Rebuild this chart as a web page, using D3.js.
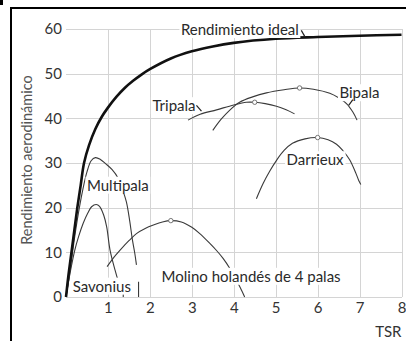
<!DOCTYPE html>
<html>
<head>
<meta charset="utf-8">
<script src="https://cdn.jsdelivr.net/npm/d3@7"></script>
<style>
  html, body { margin: 0; padding: 0; background: #fff; }
  svg { display: block; font-family: Lato, 'Noto Sans', sans-serif; }
</style>
</head>
<body>
<svg id="chart" width="406" height="341"></svg>
<script>
// Curves as [TSR, rendimiento %]
const ideal = [[0, 0], [0.06, 5], [0.13, 10], [0.2, 15], [0.27, 20], [0.35, 25], [0.43, 30],
  [0.55, 34], [0.7, 37.6], [0.85, 40.3], [1, 42.4], [1.2, 44.8], [1.4, 46.8], [1.6, 48.4],
  [1.8, 49.8], [2, 51], [2.5, 53.4], [3, 55], [3.5, 56.1], [4, 56.9], [5, 57.8], [6, 58.2],
  [7, 58.5], [8, 58.7]];
const multipala = [[0, 0], [0.1, 6], [0.2, 13], [0.3, 19], [0.4, 24], [0.5, 28], [0.6, 30.5],
  [0.7, 31.2], [0.82, 30.8], [0.95, 29.8], [1.1, 28.5], [1.25, 26.5], [1.35, 24], [1.44, 21.3],
  [1.52, 17], [1.58, 13], [1.64, 9.8], [1.68, 7.2]];
const savonius = [[0, 0], [0.1, 5.5], [0.21, 10.5], [0.3, 13.5], [0.41, 16.5], [0.52, 18.8],
  [0.61, 20.2], [0.72, 20.7], [0.8, 20.3], [0.9, 18.3], [0.97, 15.7], [1.05, 10.5], [1.17, 6],
  [1.25, 3.4]];
const molino = [[0.98, 6.8], [1.15, 9], [1.29, 10.5], [1.5, 12.6], [1.68, 14.2], [1.9, 15.4],
  [2.08, 16.1], [2.3, 16.8], [2.5, 17.1], [2.75, 16.8], [3, 15.6], [3.19, 14.2], [3.43, 12],
  [3.6, 10.3], [3.75, 8.6], [3.9, 6.5], [4.06, 3.8], [4.16, 2], [4.26, 0]];
const tripala = [[2.91, 39.6], [3.2, 40.9], [3.59, 41.9], [4, 43], [4.3, 43.6], [4.5, 43.6],
  [4.75, 43.3], [5.02, 42.7], [5.25, 41.9], [5.45, 41]];
const bipala = [[3.5, 37.3], [3.7, 39.8], [3.9, 41.8], [4.14, 43.6], [4.45, 44.8], [4.78, 45.7],
  [5.2, 46.4], [5.57, 46.8], [5.9, 46.5], [6.29, 45.6], [6.5, 44.6], [6.7, 43.2], [6.84, 41.4],
  [6.94, 39.6]];
const darrieux = [[4.54, 22], [4.7, 25.4], [4.86, 28.2], [5.02, 30.6], [5.2, 32.8], [5.4, 34.4],
  [5.7, 35.4], [6, 35.7], [6.25, 35.2], [6.45, 34.2], [6.6, 32.8], [6.76, 30.8], [6.9, 28],
  [6.98, 26.1], [7.03, 25.2]];

// optimum points (small open circles)
const peaks = [[2.5, 17.1], [4.5, 43.6], [5.57, 46.8], [6, 35.7]];
// short stubs where curves reach the axis
const drops = [[1.365, 1.9], [1.73, 3.4]];

const xTicks = [1, 2, 3, 4, 5, 6, 7, 8];
const yTicks = [0, 10, 20, 30, 40, 50, 60];

const labels = [
  { text: 'Rendimiento ideal', x: 2.74, y: 58.65 },
  { text: 'Tripala', x: 2.06, y: 41.6 },
  { text: 'Bipala', x: 6.52, y: 44.5 },
  { text: 'Darrieux', x: 5.26, y: 29.5 },
  { text: 'Multipala', x: 0.5, y: 23.8 },
  { text: 'Savonius', x: 0.16, y: 1.2 },
  { text: 'Molino holandés de 4 palas', x: 2.28, y: 3.4 },
];
// little pointer strokes from labels to curves
const leaders = [
  [[5.61, 59.7], [5.69, 58.4]],
  [[3.11, 42.9], [3.23, 41.6]],
  [[6.84, 44.2], [6.74, 42.9]],
];

const svg = d3.select('#chart');

const x = d3.scaleLinear().domain([0, 8]).range([66, 401.5]);
const y = d3.scaleLinear().domain([0, 60]).range([297, 29]);

// outer frame (only left and top edges fall inside the picture)
svg.append('rect')
  .attr('x', 0).attr('y', 0).attr('width', 3).attr('height', 5)
  .attr('fill', '#000');
svg.append('path')
  .attr('d', 'M11,341V8H406')
  .attr('fill', 'none')
  .attr('stroke', '#000')
  .attr('stroke-width', 2);

// grid
const grid = svg.append('g').attr('class', 'grid')
  .attr('stroke', '#d4d4d4')
  .attr('stroke-width', 1)
  .attr('shape-rendering', 'crispEdges');
grid.selectAll('line.h')
  .data(yTicks)
  .join('line')
  .attr('class', 'h')
  .attr('x1', x(0)).attr('x2', x(8))
  .attr('y1', d => Math.round(y(d)) + 0.5)
  .attr('y2', d => Math.round(y(d)) + 0.5);
grid.selectAll('line.v')
  .data(xTicks)
  .join('line')
  .attr('class', 'v')
  .attr('y1', y(0)).attr('y2', y(60))
  .attr('x1', d => Math.round(x(d)) + 0.5)
  .attr('x2', d => Math.round(x(d)) + 0.5);

// axes (labels only)
const yAxis = svg.append('g')
  .attr('transform', 'translate(' + x(0) + ',0)')
  .call(d3.axisLeft(y).tickValues(yTicks).tickSize(0).tickPadding(4));
const xAxis = svg.append('g')
  .attr('transform', 'translate(0,' + y(0) + ')')
  .call(d3.axisBottom(x).tickValues(xTicks).tickSize(0).tickPadding(5));
[yAxis, xAxis].forEach((ax) => {
  ax.select('.domain').remove();
  ax.selectAll('text')
    .attr('font-family', 'Lato, sans-serif')
    .attr('font-size', 15)
    .attr('fill', '#333');
});

svg.append('text')
  .attr('x', x(8)).attr('y', 337)
  .attr('text-anchor', 'end')
  .attr('font-size', 15)
  .attr('fill', '#333')
  .text('TSR');

svg.append('text')
  .attr('transform', 'translate(27,160) rotate(-90)')
  .attr('dy', '0.35em')
  .attr('text-anchor', 'middle')
  .attr('font-size', 14.5)
  .attr('fill', '#555')
  .text('Rendimiento aerodinámico');

// curves
const line = d3.line()
  .x(d => x(d[0]))
  .y(d => y(d[1]))
  .curve(d3.curveCatmullRom);

const thin = [multipala, savonius, molino, tripala, bipala, darrieux];
svg.append('g')
  .selectAll('path')
  .data(thin)
  .join('path')
  .attr('d', line)
  .attr('fill', 'none')
  .attr('stroke', '#3a3a3a')
  .attr('stroke-width', 1.1);

svg.selectAll('line.drop')
  .data(drops)
  .join('line')
  .attr('class', 'drop')
  .attr('x1', d => x(d[0])).attr('x2', d => x(d[0]))
  .attr('y1', y(0)).attr('y2', d => y(d[1]))
  .attr('stroke', '#3a3a3a')
  .attr('stroke-width', 1.1);

svg.append('path')
  .datum(ideal)
  .attr('d', line)
  .attr('fill', 'none')
  .attr('stroke', '#111')
  .attr('stroke-width', 2.6);

// labels on white boxes, they cut grid and curves
const lab = svg.append('g').selectAll('g')
  .data(labels)
  .join('g');
lab.append('text')
  .attr('x', d => x(d.x))
  .attr('y', d => y(d.y))
  .attr('font-size', 15)
  .attr('fill', '#2a2a2a')
  .text(d => d.text);
lab.each(function addBox() {
  const g = d3.select(this);
  const bb = g.select('text').node().getBBox();
  g.insert('rect', 'text')
    .attr('x', bb.x - 1.5)
    .attr('y', bb.y + 1)
    .attr('width', bb.width + 3)
    .attr('height', bb.height - 1)
    .attr('fill', '#fff');
});

svg.selectAll('path.leader')
  .data(leaders)
  .join('path')
  .attr('class', 'leader')
  .attr('d', d3.line().x(d => x(d[0])).y(d => y(d[1])))
  .attr('stroke', '#222')
  .attr('stroke-width', 1.2)
  .attr('fill', 'none');

svg.selectAll('circle.peak')
  .data(peaks)
  .join('circle')
  .attr('class', 'peak')
  .attr('cx', d => x(d[0]))
  .attr('cy', d => y(d[1]))
  .attr('r', 2.2)
  .attr('fill', '#fff')
  .attr('stroke', '#666')
  .attr('stroke-width', 0.9);
</script>
</body>
</html>
